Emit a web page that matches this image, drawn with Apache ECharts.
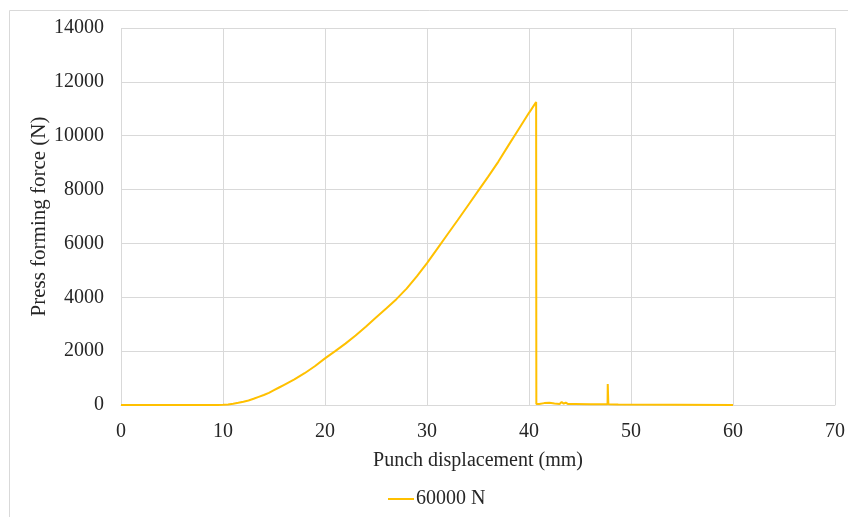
<!DOCTYPE html>
<html>
<head>
<meta charset="utf-8">
<script src="https://cdn.jsdelivr.net/npm/echarts@6/dist/echarts.min.js"></script>
<style>html,body{margin:0;padding:0;background:#fff}#c{width:848px;height:517px}</style>
</head>
<body>
<div id="c"></div>
<script>
var seriesName = '60000 N';
var xValues = [0, 2, 4, 6, 8, 9.5, 10, 10.5, 11, 11.5, 12, 12.5, 13, 13.5, 14, 14.5, 15, 15.5, 16, 16.5, 17, 18, 19, 20, 21, 22, 23, 24, 25, 26, 27, 28, 29, 30, 31, 32, 33, 34, 35, 36, 37, 38, 39, 40, 40.2, 40.7,
  40.72, 41, 41.5, 42, 42.5, 43, 43.2, 43.4, 43.6, 43.8, 44.5, 46, 47.7, 47.72, 47.78, 48.75, 48.8, 60];
var yValues = [0, 0, 0, 0, 0, 0, 5, 20, 45, 80, 120, 170, 230, 300, 370, 450, 550, 650, 750, 850, 950, 1180, 1440, 1730, 2000, 2280, 2580, 2910, 3250, 3580, 3930, 4320, 4780, 5270, 5800, 6330, 6860, 7400, 7940, 8480, 9040, 9650, 10250, 10850, 10960, 11250,
  40, 40, 70, 85, 60, 40, 110, 50, 90, 40, 40, 25, 25, 780, 25, 20, 0, 0];
var xTicks = [0, 10, 20, 30, 40, 50, 60, 70];
var yTicks = [0, 2000, 4000, 6000, 8000, 10000, 12000, 14000];

var pts = xValues.map(function (x, i) { return [x, yValues[i]]; });
var font = 'Liberation Serif';
var chart = echarts.init(document.getElementById('c'));
chart.setOption({
  animation: false,
  textStyle: { fontFamily: font },
  graphic: [{
    type: 'rect', silent: true,
    shape: { x: 9.5, y: 10.5, width: 900, height: 600 },
    style: { fill: 'none', stroke: '#d9d9d9', lineWidth: 1 }
  }],
  grid: { left: 121, right: 12, top: 28, bottom: 112, containLabel: false },
  legend: {
    left: 382, top: 484, itemWidth: 26, itemHeight: 20, itemGap: 10,
    itemStyle: { opacity: 0 },
    lineStyle: { color: '#FFC000', width: 2 },
    textStyle: { fontFamily: font, fontSize: 20, color: '#262626', padding: [0, 0, 0, -3] },
    data: [seriesName]
  },
  xAxis: {
    type: 'value', min: xTicks[0], max: xTicks[xTicks.length - 1], interval: 10,
    name: 'Punch displacement (mm)', nameLocation: 'middle', nameGap: 46,
    nameTextStyle: { fontFamily: font, fontSize: 20, color: '#262626' },
    axisLine: { show: true, lineStyle: { color: '#d9d9d9', width: 1 } },
    axisTick: { show: false },
    axisLabel: { margin: 17, fontFamily: font, fontSize: 20, color: '#262626' },
    splitLine: { show: true, lineStyle: { color: '#d9d9d9', width: 1 } }
  },
  yAxis: {
    type: 'value', min: yTicks[0], max: yTicks[yTicks.length - 1], interval: 2000,
    name: 'Press forming force (N)', nameLocation: 'middle', nameGap: 71, nameMoveOverlap: false,
    nameTextStyle: { fontFamily: font, fontSize: 21, color: '#262626' },
    axisLine: { show: false },
    axisTick: { show: false },
    axisLabel: { margin: 17, fontFamily: font, fontSize: 20, color: '#262626', formatter: function (v) { return String(v); } },
    splitLine: { show: true, lineStyle: { color: '#d9d9d9', width: 1 } }
  },
  series: [{
    name: seriesName, type: 'line', data: pts, symbol: 'none', showSymbol: false,
    lineStyle: { color: '#FFC000', width: 2 }, itemStyle: { color: '#FFC000' }
  }]
});
</script>
</body>
</html>
